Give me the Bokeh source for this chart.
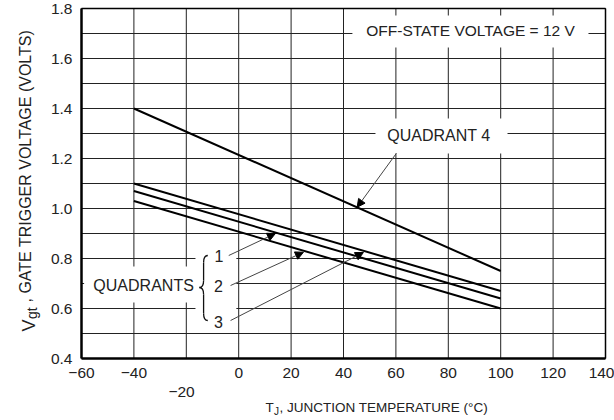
from math import pi
from bokeh.plotting import figure
from bokeh.models import Range1d, FixedTicker, PrintfTickFormatter, Label, Arrow, NormalHead
from bokeh.embed import file_html
from bokeh.resources import INLINE

# ---- data ----
temp_c = [-40, 100]
vgt_quadrant4 = [1.40, 0.75]
vgt_quadrant1 = [1.10, 0.67]
vgt_quadrant2 = [1.07, 0.64]
vgt_quadrant3 = [1.03, 0.60]

x_min, x_max = -60, 140
y_min, y_max = 0.4, 1.8
x_ticks = [-60, -40, -20, 0, 20, 40, 60, 80, 100, 120, 140]
x_tick_overrides = {-60: "\u221260", -40: "\u221240", -20: ""}
y_ticks = [0.4, 0.6, 0.8, 1.0, 1.2, 1.4, 1.6, 1.8]
y_grid = [0.4, 0.5, 0.6, 0.7, 0.8, 0.9, 1.0, 1.1, 1.2, 1.3, 1.4, 1.5, 1.6, 1.7, 1.8]

FONT = "Liberation Sans"
TXT = "#222222"
W, H = 614, 420
# plot-area margins in pixels (left, right, top, bottom)
ML, MR, MT, MB = 81, 9, 8, 62
sx = (W - ML - MR) / (x_max - x_min)
sy = (H - MT - MB) / (y_max - y_min)

p = figure(width=W, height=H,
           x_range=Range1d(x_min - ML / sx, x_max + MR / sx),
           y_range=Range1d(y_min - MB / sy, y_max + MT / sy),
           output_backend="svg", toolbar_location=None,
           min_border_left=0, min_border_right=0, min_border_top=0, min_border_bottom=0)
p.background_fill_color = "white"
p.border_fill_color = "white"
p.outline_line_color = None
p.grid.visible = False

# axes placed at the plot-area edges
p.xaxis.fixed_location = y_min
p.yaxis.fixed_location = x_min
p.xaxis.bounds = (x_min, x_max)
p.yaxis.bounds = (y_min, y_max)
for ax in (p.xaxis, p.yaxis):
    ax.major_tick_out = 0
    ax.major_tick_in = 0
    ax.minor_tick_out = 0
    ax.minor_tick_in = 0
    ax.axis_line_color = "black"
    ax.axis_line_width = 2.5
    ax.major_label_text_font = FONT
    ax.major_label_text_font_size = "15.5px"
    ax.major_label_text_color = TXT
    ax.major_label_standoff = 9

p.xaxis.ticker = FixedTicker(ticks=x_ticks)
p.xaxis.major_label_overrides = x_tick_overrides
p.yaxis.ticker = FixedTicker(ticks=y_ticks)
p.yaxis.formatter = PrintfTickFormatter(format="%.1f")

# grid lines restricted to the plot area
p.segment(x0=x_ticks, y0=[y_min] * len(x_ticks), x1=x_ticks, y1=[y_max] * len(x_ticks),
          line_color="#222222", line_width=1)
p.segment(x0=[x_min] * len(y_grid), y0=y_grid, x1=[x_max] * len(y_grid), y1=y_grid,
          line_color="#222222", line_width=1)
# top and right border
p.segment(x0=[x_min, x_max], y0=[y_max, y_min], x1=[x_max, x_max], y1=[y_max, y_max],
          line_color="black", line_width=1.5)

# white boxes behind the annotation texts (hide grid lines there)
box_left = [43.4, 52.2, -59.0, -16.5]
box_right = [133.5, 102.6, -14.6, -0.9]
box_bottom = [1.644, 1.220, 0.624, 0.532]
box_top = [1.772, 1.360, 0.768, 0.832]
p.quad(left=box_left, right=box_right, bottom=box_bottom, top=box_top,
       fill_color="white", line_color=None)

# curves
for ys in (vgt_quadrant4, vgt_quadrant1, vgt_quadrant2, vgt_quadrant3):
    p.line(temp_c, ys, line_width=2, line_color="black")

# curly brace beside the quadrant numbers
bx_r, bx_m, bx_l = -11.8, -13.4, -15.0
by_t, by_m, by_b, bh = 0.812, 0.684, 0.552, 0.028
p.quadratic(x0=[bx_r, bx_m, bx_l, bx_m], y0=[by_t, by_m + bh, by_m, by_b + bh],
            x1=[bx_m, bx_l, bx_m, bx_r], y1=[by_t - bh, by_m, by_m - bh, by_b],
            cx=[bx_m, bx_m, bx_m, bx_m], cy=[by_t, by_m, by_m, by_b],
            line_color="#111111", line_width=1.3)
p.segment(x0=[bx_m, bx_m], y0=[by_t - bh, by_m - bh], x1=[bx_m, bx_m], y1=[by_m + bh, by_b + bh],
          line_color="#111111", line_width=1.3)

# arrows: (tail x, tail y, tip x, tip y)
arrows = [(60.2, 1.221, 45.2, 1.005),
          (-3.8, 0.812, 14.0, 0.900),
          (-3.1, 0.692, 24.7, 0.825),
          (-3.1, 0.552, 47.6, 0.824)]
for xs, ys, xe, ye in arrows:
    p.add_layout(Arrow(x_start=xs, y_start=ys, x_end=xe, y_end=ye,
                       line_color="#444444", line_width=1,
                       end=NormalHead(size=8, fill_color="black", line_color="black", line_width=1)))


def lab(text, x, y, size, align="center", baseline="middle", angle=0.0):
    p.add_layout(Label(x=x, y=y, text=text, text_font=FONT, text_font_size=size,
                       text_color=TXT, text_align=align, text_baseline=baseline, angle=angle))


lab("OFF-STATE VOLTAGE = 12 V", 88.5, 1.712, "15.5px")
lab("QUADRANT 4", 76.4, 1.292, "16px")
lab("QUADRANTS", -36.3, 0.692, "16px")
lab("1", -7.5, 0.812, "16px")
lab("2", -7.7, 0.692, "16px")
lab("3", -7.7, 0.548, "16px")

# displaced -20 tick label
lab("\u221220", -21.8, 0.268, "15.5px")

# x-axis title: T_J, JUNCTION TEMPERATURE (°C)
lab("T", 10.2, 0.204, "13.5px", align="left", baseline="alphabetic")
lab("J", 13.5, 0.188, "10px", align="left", baseline="alphabetic")
lab(", JUNCTION TEMPERATURE (\u00b0C)", 15.6, 0.204, "13.5px", align="left", baseline="alphabetic")

# y-axis title: V_gt , GATE TRIGGER VOLTAGE (VOLTS)
lab("V", -80.2, 0.508, "18px", align="left", baseline="alphabetic", angle=pi / 2)
lab("gt", -78.9, 0.558, "14px", align="left", baseline="alphabetic", angle=pi / 2)
lab(", GATE TRIGGER VOLTAGE (VOLTS)", -81.4, 0.624, "16px", align="left", baseline="alphabetic", angle=pi / 2)

open("out.html", "w").write(file_html(p, INLINE))
